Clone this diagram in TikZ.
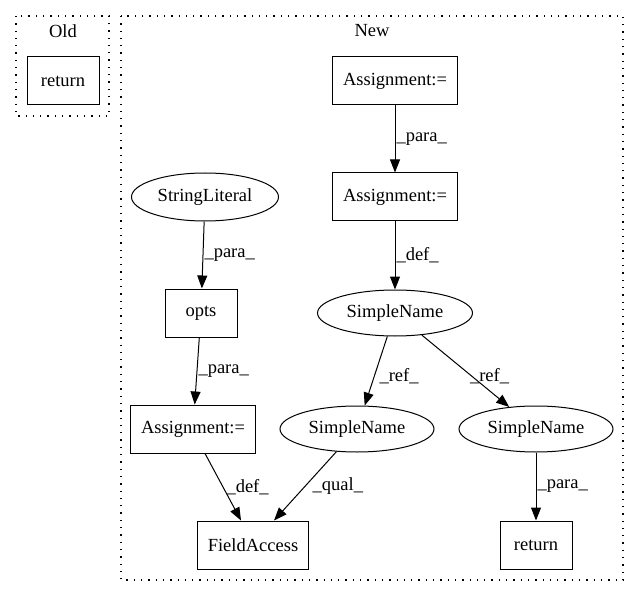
\documentclass[tikz,border=0pt]{standalone}
\usepackage{fontspec}
\setmainfont{Liberation Serif}
\usetikzlibrary{arrows.meta,shapes.geometric}
\begin{document}
\begin{tikzpicture}[x=1pt, y=-1pt, line width=1pt,
  every node/.style={font=\fontsize{18.5}{22}\selectfont},
  box/.style={draw, minimum height=48pt, inner sep=0pt},
  oval/.style={draw, ellipse, minimum width=154pt, minimum height=46pt, inner sep=0pt},
  lab/.style={midway, anchor=west, inner sep=1pt},
  ed/.style={-{Triangle[length=13pt,width=10pt]}},
  clust/.style={draw, line width=1.3pt, dash pattern=on 1.3pt off 6pt}]
\useasboundingbox (0,0) rectangle (640,596);
\draw[clust] (16,16) rectangle (109,116);
\draw[clust] (121,16) rectangle (623,580);
\node (oldlab) at (63,31) {Old};
\node (newlab) at (372,31) {New};
\node[box, minimum width=72pt] (oldret) at (63,81) {return};
\node[box, minimum width=125pt] (asg1) at (395,81) {Assignment:=};
\node[box, minimum width=125pt] (asg2) at (395,197) {Assignment:=};
\node[oval, minimum width=155pt] (sname) at (395,313) {SimpleName};
\node[oval, minimum width=147pt, minimum height=48pt] (strlit) at (205,197) {StringLiteral};
\node[box, minimum width=72pt] (opts) at (201,313) {opts};
\node[box, minimum width=125pt] (asg3) at (193,429) {Assignment:=};
\node[oval] (snleft) at (357,429) {SimpleName};
\node[oval] (snright) at (536,429) {SimpleName};
\node[box, minimum width=111pt] (facc) at (253,545) {FieldAccess};
\node[box, minimum width=72pt] (ret) at (536,545) {return};
\draw[ed] (asg1) -- (asg2) node[lab] {\_para\_};
\draw[ed] (asg2) -- (sname) node[lab] {\_def\_};
\draw[ed] (strlit) -- (opts) node[lab] {\_para\_};
\draw[ed] (opts) -- (asg3) node[lab] {\_para\_};
\draw[ed] (sname) -- (snleft) node[lab, xshift=2pt, yshift=-5pt] {\_ref\_};
\draw[ed] (sname) -- (snright) node[lab, xshift=3pt, yshift=-5pt] {\_ref\_};
\draw[ed] ([xshift=12pt]asg3.south) -- ([xshift=-12pt]facc.north) node[lab, xshift=2pt] {\_def\_};
\draw[ed] (snleft) -- ([xshift=21pt]facc.north) node[lab, xshift=6pt] {\_qual\_};
\draw[ed] (snright) -- (ret) node[lab] {\_para\_};
\end{tikzpicture}
\end{document}
